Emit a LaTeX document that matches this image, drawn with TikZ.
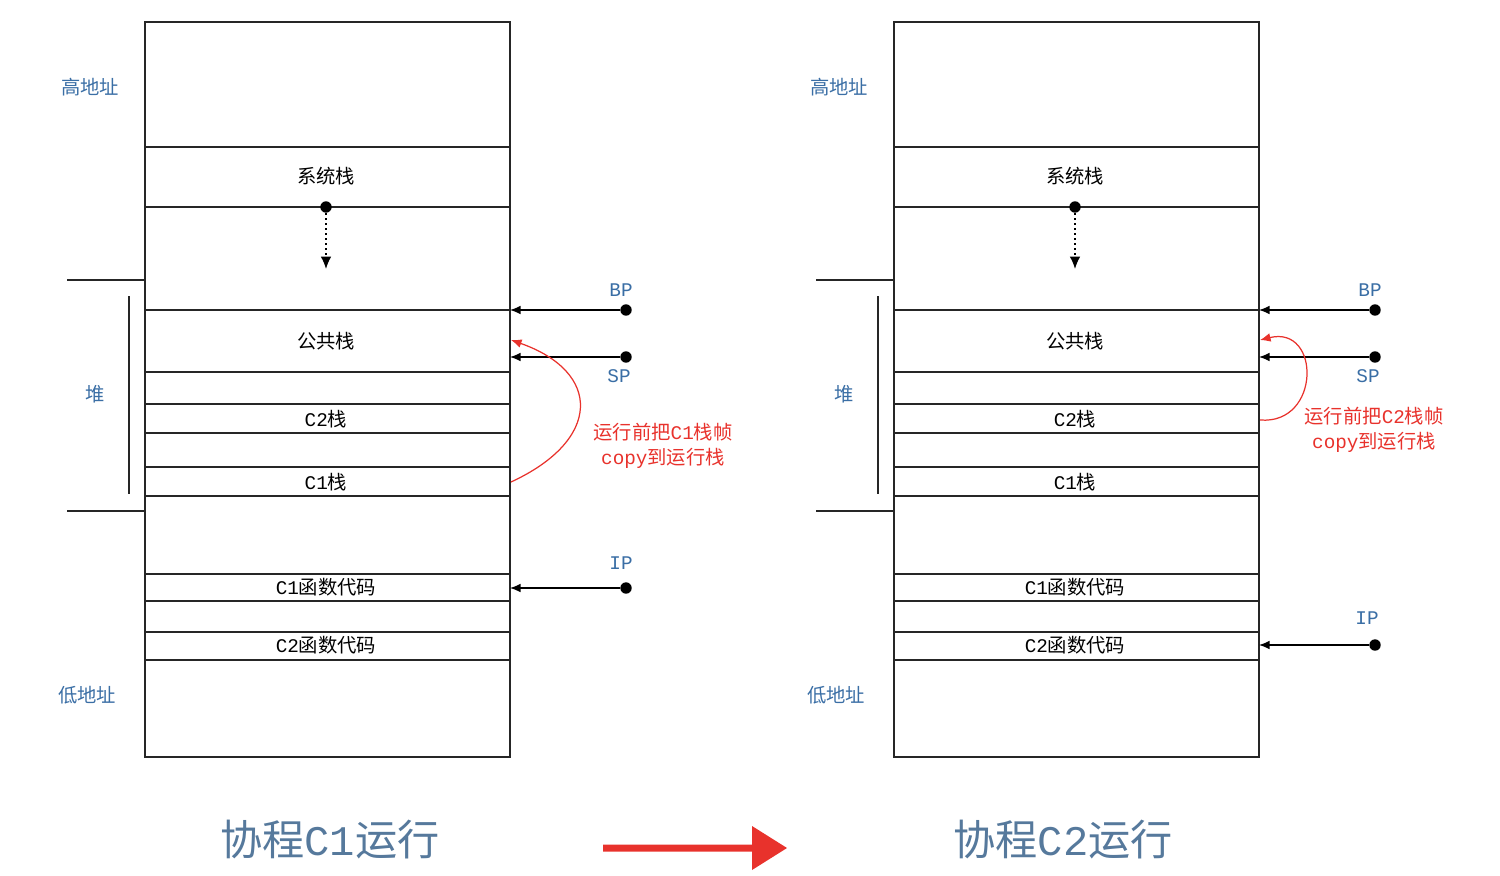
\documentclass[tikz,border=0pt]{standalone}
\usepackage{fontspec}
\newfontfamily\cjk{Noto Sans CJK SC}
\newfontfamily\lat{Liberation Mono}
\usetikzlibrary{arrows.meta}
\definecolor{lblue}{HTML}{3A6EA5}
\definecolor{tblue}{HTML}{56799C}
\definecolor{myred}{HTML}{E8322C}
\tikzset{
  lbl/.style={font=\cjk\fontsize{11}{13}\selectfont, inner sep=0pt},
  bluelbl/.style={font=\cjk\fontsize{11}{13}\selectfont, text=lblue, inner sep=0pt},
  redlbl/.style={font=\cjk\fontsize{11}{14}\selectfont, text=myred, align=center, inner sep=0pt},
  title/.style={font=\cjk\fontsize{24}{28}\selectfont, text=tblue, inner sep=0pt},
  rowline/.style={line width=0.85pt, draw=black!85},
  ptr/.style={line width=0.85pt, -{Latex[length=6pt,width=5pt]}},
  dotc/.style={circle, fill=black, inner sep=0pt, minimum size=6.5pt},
  copyarc/.style={draw=myred, line width=0.7pt, -{Latex[length=6pt,width=5pt]}},
}
\newcommand\mypanel{%
  \draw[rowline] (145,22) rectangle (510,757);
  \foreach \yy in {147,207,310,372,404,433,467,496,574,601,632,660}
    \draw[rowline] (145,\yy) -- (510,\yy);
  \node[bluelbl] (hi) at (90,87) {高地址};
  \node[bluelbl] (lo) at (87,695) {低地址};
  \node[bluelbl] (heap) at (95,394) {堆};
  \draw[rowline] (67,280) -- (145,280);
  \draw[rowline] (67,511) -- (145,511);
  \draw[rowline] (129,296) -- (129,494);
  \node[lbl] (sys) at (326,176) {系统栈};
  \node[lbl] (pub) at (326,341) {公共栈};
  \node[lbl] (c2s) at (326,419) {{\lat C2}栈};
  \node[lbl] (c1s) at (326,482) {{\lat C1}栈};
  \node[lbl] (c1f) at (326,587) {{\lat C1}函数代码};
  \node[lbl] (c2f) at (326,645) {{\lat C2}函数代码};
  \node[dotc] (sd) at (326,207) {};
  \coordinate (se) at (326,269);
  \draw[line width=0.85pt, dotted, -{Latex[length=7pt,width=6pt]}] (sd) -- (se);
  \node[dotc] (bpd) at (626,310) {};
  \coordinate (bpe) at (510,310);
  \draw[ptr] (bpd) -- (bpe);
  \node[font=\lat\fontsize{11}{13}\selectfont, text=lblue, inner sep=0pt] (bpl) at (621,290) {BP};
  \node[dotc] (spd) at (626,357) {};
  \coordinate (spe) at (510,357);
  \draw[ptr] (spd) -- (spe);
  \node[font=\lat\fontsize{11}{13}\selectfont, text=lblue, inner sep=0pt] (spl) at (619,376) {SP};
}
\begin{document}
\begin{tikzpicture}[x={(0.02cm,0)}, y={(0,-0.02cm)}]
\useasboundingbox (0,0) rectangle (1500,875);
% left panel
\begin{scope}[name prefix=L-]
  \mypanel
  \node[dotc] (ipd) at (626,588) {};
  \coordinate (ipe) at (510,588);
  \draw[ptr] (ipd) -- (ipe);
  \node[font=\lat\fontsize{11}{13}\selectfont, text=lblue, inner sep=0pt] (ipl) at (621,563) {IP};
  \coordinate (ca) at (511,482);
  \coordinate (cb) at (511,340);
  \draw[copyarc] (ca) .. controls (602,440) and (602,372) .. (cb);
  \node[redlbl] (note) at (663,446) {运行前把{\lat C1}栈帧\\{\lat copy}到运行栈};
\end{scope}
% right panel
\begin{scope}[shift={(749,0)}, name prefix=R-]
  \mypanel
  \node[dotc] (ipd) at (626,645) {};
  \coordinate (ipe) at (510,645);
  \draw[ptr] (ipd) -- (ipe);
  \node[font=\lat\fontsize{11}{13}\selectfont, text=lblue, inner sep=0pt] (ipl) at (618,618) {IP};
  \coordinate (ca) at (511,420);
  \coordinate (cb) at (511,340);
  \draw[copyarc] (ca) .. controls (572,425) and (572,325) .. (cb);
  \node[redlbl] (note) at (625,430) {运行前把{\lat C2}栈帧\\{\lat copy}到运行栈};
\end{scope}
% titles
\node[title] (t1) at (330,840) {协程{\lat C1}运行};
\node[title] (t2) at (1063,840) {协程{\lat C2}运行};
\coordinate (ta) at (603,848);
\coordinate (tb) at (787,848);
\fill[myred] (ta) ++(0,-3.5) -- (752,844.5) -- (752,826) -- (tb) -- (752,870) -- (752,851.5) -- (603,851.5) -- cycle;
\end{tikzpicture}
\end{document}
